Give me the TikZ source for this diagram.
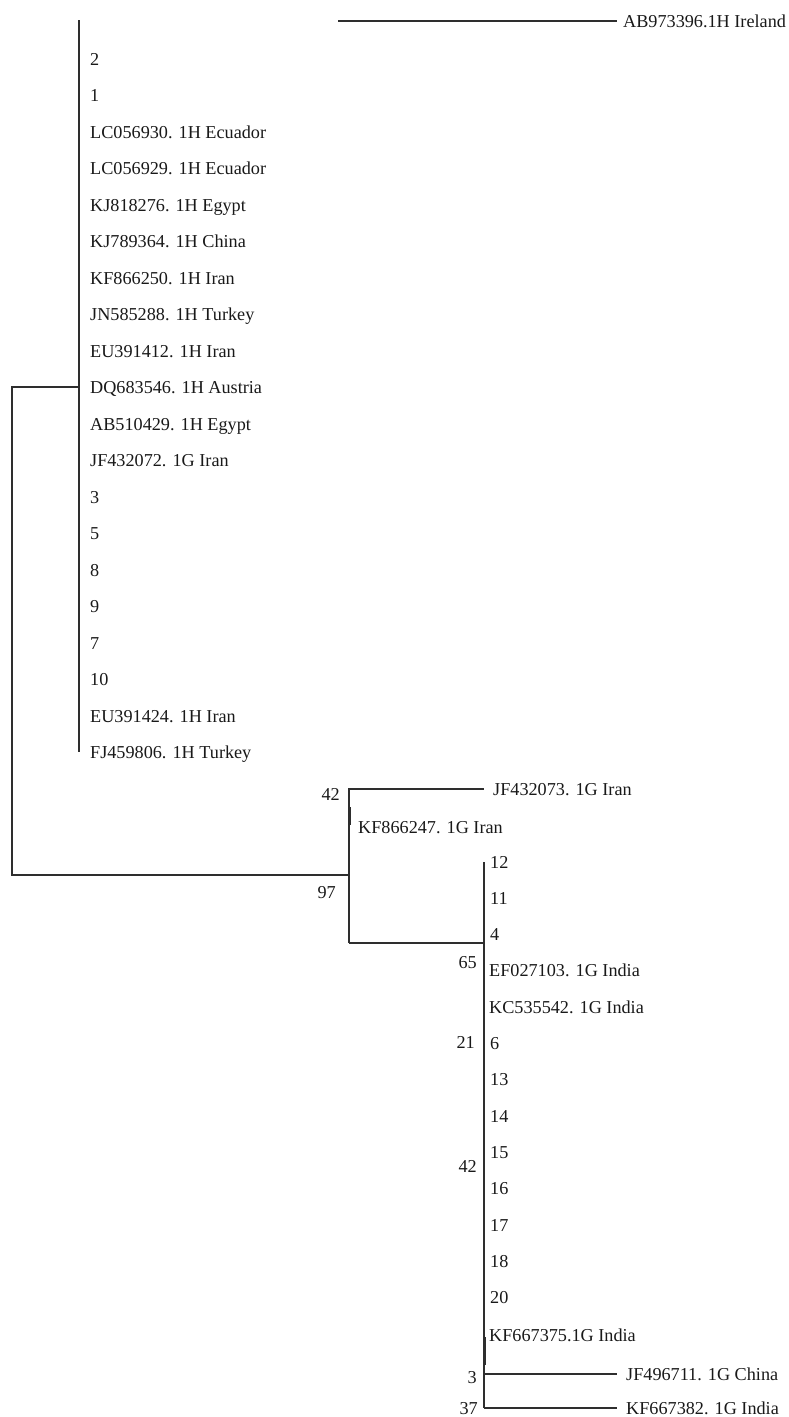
\documentclass[tikz,border=0pt]{standalone}
\usepackage{fontspec}
\setmainfont{Liberation Serif}
\usepackage{xcolor}
\usepackage{tikz}

\definecolor{branchgray}{HTML}{2E2E2E}
\tikzset{
    branch/.style={draw=branchgray, line width=1.5pt},
    zerobranch/.style={draw=branchgray, line width=3pt},
    leaf/.style={anchor=west, inner sep=0pt, text height=12pt, text depth=0pt,
        font=\fontsize{18.2}{21}\selectfont, text=black!90},
    boot/.style={anchor=east, inner sep=0pt, text height=12pt, text depth=0pt,
        font=\fontsize{18.2}{21}\selectfont, text=black!90},
}

\begin{document}
\begin{tikzpicture}[x=1pt, y=-1pt]
    \useasboundingbox (0,0) rectangle (789,1417);

    % Internal nodes of the tree
    \coordinate (root) at (12,631);
    \coordinate (nA) at (79,387);
    \coordinate (nAtop) at (79,20);
    \coordinate (nAbot) at (79,752);
    \coordinate (nB) at (349,875);
    \coordinate (nBtop) at (349,788);
    \coordinate (nBbot) at (349,943);
    \coordinate (nC) at (484,943);
    \coordinate (nCtop) at (484,862);
    \coordinate (nCbot) at (484,1408);
    \coordinate (nCmid) at (484,1374);
    \coordinate (irlstart) at (338,21);

    % Ireland branch
    \node[leaf] (ireland) at (623,21) {AB973396.1H Ireland};
    \draw[branch, shorten >=6pt] (irlstart) -- (ireland.west);

    % Clade A: leaves
    \node[leaf] (a2) at (90,59) {2};
    \node[leaf] (a1) at (90,95.5) {1};
    \node[leaf] (lc930) at (90,132) {LC056930. 1H Ecuador};
    \node[leaf] (lc929) at (90,168.5) {LC056929. 1H Ecuador};
    \node[leaf] (kj276) at (90,205) {KJ818276. 1H Egypt};
    \node[leaf] (kj364) at (90,241.5) {KJ789364. 1H China};
    \node[leaf] (kf250) at (90,278) {KF866250. 1H Iran};
    \node[leaf] (jn288) at (90,314.5) {JN585288. 1H Turkey};
    \node[leaf] (eu412) at (90,351) {EU391412. 1H Iran};
    \node[leaf] (dq546) at (90,387.5) {DQ683546. 1H Austria};
    \node[leaf] (ab429) at (90,424) {AB510429. 1H Egypt};
    \node[leaf] (jf072) at (90,460.5) {JF432072. 1G Iran};
    \node[leaf] (a3) at (90,497) {3};
    \node[leaf] (a5) at (90,533.5) {5};
    \node[leaf] (a8) at (90,570) {8};
    \node[leaf] (a9) at (90,606.5) {9};
    \node[leaf] (a7) at (90,643) {7};
    \node[leaf] (a10) at (90,679.5) {10};
    \node[leaf] (eu424) at (90,716) {EU391424. 1H Iran};
    \node[leaf] (fj806) at (90,752.5) {FJ459806. 1H Turkey};

    % Clade A: branches
    \draw[branch] (nAtop) -- (nAbot);
    \draw[branch] (nA) -| (root) |- (nB);

    % Clade B
    \node[leaf] (jf073) at (493,789) {JF432073. 1G Iran};
    \node[leaf] (kf247) at (358,827) {KF866247. 1G Iran};
    \node[boot] (bs42a) at (340,794) {42};
    \node[boot] (bs97) at (336,892) {97};
    \draw[branch] (nBbot) -- (nBtop);
    \draw[branch, shorten >=9pt] (nBtop) -- (jf073.west -| nBtop) -- (jf073.west);
    \draw[zerobranch] (349,807) -- (349,825);
    \draw[branch] (nBbot) -- (nC);

    % Clade C: leaves
    \node[leaf] (c12) at (490,862) {12};
    \node[leaf] (c11) at (490,898.3) {11};
    \node[leaf] (c4) at (490,934.6) {4};
    \node[leaf] (ef103) at (489,970.9) {EF027103. 1G India};
    \node[leaf] (kc542) at (489,1007.2) {KC535542. 1G India};
    \node[leaf] (c6) at (490,1043.5) {6};
    \node[leaf] (c13) at (490,1079.8) {13};
    \node[leaf] (c14) at (490,1116.1) {14};
    \node[leaf] (c15) at (490,1152.4) {15};
    \node[leaf] (c16) at (490,1188.7) {16};
    \node[leaf] (c17) at (490,1225) {17};
    \node[leaf] (c18) at (490,1261.3) {18};
    \node[leaf] (c20) at (490,1297.6) {20};
    \node[leaf] (kf375) at (489,1335) {KF667375.1G India};
    \node[leaf] (jf711) at (626,1374) {JF496711. 1G China};
    \node[leaf] (kf382) at (626,1408) {KF667382. 1G India};

    % Clade C: support values
    \node[boot] (bs65) at (477,962) {65};
    \node[boot] (bs21) at (475,1042) {21};
    \node[boot] (bs42b) at (477,1166) {42};
    \node[boot] (bs3) at (477,1377) {3};
    \node[boot] (bs37) at (478,1408) {37};

    % Clade C: branches
    \draw[branch] (nCtop) -- (nCbot);
    \draw[zerobranch] (484,1337) -- (484,1365);
    \draw[branch, shorten >=9pt] (nCmid) -- (jf711.west);
    \draw[branch, shorten >=9pt] (nCbot) -- (kf382.west);
\end{tikzpicture}
\end{document}
